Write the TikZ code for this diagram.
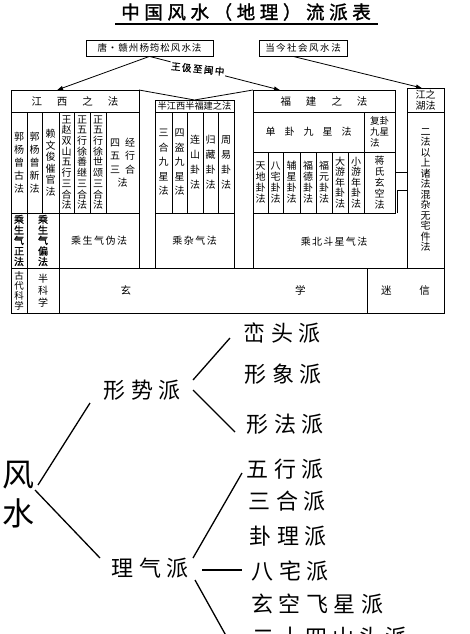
\documentclass[tikz,border=0pt]{standalone}
\usepackage{fontspec}
\setmainfont{Noto Sans CJK SC}
\newfontfamily\titlefont[FakeBold=1.5]{Noto Sans CJK SC}
\newfontfamily\cjkbold[FakeBold=1.2]{Noto Sans CJK SC}
\usetikzlibrary{arrows.meta,calc}
\makeatletter
\def\spc@end{SPCEND}
\newcommand\spc[2]{\def\spc@k{#1}\spc@a#2\spc@end}
\def\spc@a#1{\ifx#1\spc@end\else#1\expandafter\spc@b\fi}
\def\spc@b#1{\ifx#1\spc@end\else\kern\spc@k pt\relax#1\expandafter\spc@b\fi}
\makeatother
\newcommand\hsp[1]{\hspace{#1pt}}
\newcommand\tcell[7][]{\node[cellbox,#1,minimum width={(#5-#3)*1pt},minimum height={(#6-#4)*1pt}] (#2) at ({(#3+#5)/2},{(#4+#6)/2}) {#7};}
\tikzset{
  cellbox/.style={draw, line width=0.8pt, inner sep=0pt, outer sep=0pt, align=center},
  vt/.style={align=center, font=\fontsize{10}{#1}\selectfont},
  vtb/.style={align=center, font=\cjkbold\fontsize{10}{#1}\selectfont},
  htxt/.style={font=\fontsize{10}{12}\selectfont},
  topbox/.style={draw, line width=0.8pt, inner sep=0pt, minimum height=16pt, font=\fontsize{9.5}{11}\selectfont},
  arr/.style={-{Latex[length=6pt,width=4.5pt]}, line width=0.8pt},
  branch/.style={line width=1.3pt},
  leaf/.style={font=\fontsize{22}{22}\selectfont, inner sep=0pt},
}
\begin{document}
\begin{tikzpicture}[x=1pt,y=-1pt]
\useasboundingbox (0,0) rectangle (470,634);
\fill[white] (0,0) rectangle (470,634);
\clip (0,0) rectangle (470,634);

% title
\node[font=\titlefont\fontsize{18.5}{20}\selectfont, inner sep=0pt] (title) at (246,12) {\spc{4.6}{中国风水（地理）流派表}};
\draw[line width=1.2pt] (115,24) -- (378,24);

% top boxes
\node[topbox, minimum width=127pt] (tb1) at (149.5,48) {\spc{1}{唐・赣州杨筠松风水法}};
\node[topbox, minimum width=88pt] (tb2) at (303,48) {\spc{1.5}{当今社会风水法}};

% ---- table ----
% 江西之法
\tcell[htxt,font=\fontsize{10.5}{12}\selectfont]{jxh}{11}{90}{139}{112}{江\hsp{15}西\hsp{15}之\hsp{15}法}
\tcell[vt=13]{c1}{11}{112}{27}{213}{郭\\杨\\曾\\古\\法}
\tcell[vt=13]{c2}{27}{112}{42}{213}{郭\\杨\\曾\\新\\法}
\tcell[vt=11.5]{c3}{42}{112}{59}{213}{赖\\文\\俊\\催\\官\\法}
\tcell[vt=10.7]{c4}{59}{112}{74}{213}{王\\赵\\双\\山\\五\\行\\三\\合\\法}
\tcell[vt=10.7]{c5}{74}{112}{90}{213}{正\\五\\行\\徐\\善\\继\\三\\合\\法}
\tcell[vt=10.7]{c6}{90}{112}{106}{213}{正\\五\\行\\徐\\世\\颂\\三\\合\\法}
\tcell[vt=13.5]{c7}{106}{112}{139}{213}{四\hsp{5}经\\五\hsp{5}行\\三\hsp{5}合\\法}
\tcell[vtb=10.5]{r2a}{11}{213}{27}{268}{乘\\生\\气\\正\\法}
\tcell[vtb=10.5]{r2b}{27}{213}{59}{268}{乘\\生\\气\\偏\\法}
\tcell[htxt]{r2c}{59}{213}{139}{268}{\spc{1.5}{乘生气伪法}}

% 半江西半福建之法
\tcell[font=\fontsize{9.2}{11}\selectfont]{bh}{155}{100}{234}{112}{半江西半福建之法}
\tcell[vt=14.5]{b1}{155}{112}{172}{213}{三\\合\\九\\星\\法}
\tcell[vt=14.5]{b2}{172}{112}{187}{213}{四\\盗\\九\\星\\法}
\tcell[vt=15]{b3}{187}{112}{203}{213}{连\\山\\卦\\法}
\tcell[vt=15]{b4}{203}{112}{218}{213}{归\\藏\\卦\\法}
\tcell[vt=15]{b5}{218}{112}{234}{213}{周\\易\\卦\\法}
\tcell[htxt]{b6}{155}{213}{234}{268}{\spc{1.5}{乘杂气法}}

% 福建之法
\tcell[font=\fontsize{10.5}{12}\selectfont]{fh}{253}{90}{395}{112}{福\hsp{15}建\hsp{15}之\hsp{15}法}
\tcell[htxt]{f1}{253}{112}{364}{152}{单\hsp{9}卦\hsp{9}九\hsp{9}星\hsp{9}法}
\tcell[align=left,font=\fontsize{9.5}{11}\selectfont]{f2}{364}{112}{395}{152}{复卦\\九星\\法}
\tcell[vt=11]{f3}{253}{152}{268}{213}{天\\地\\卦\\法}
\tcell[vt=11]{f4}{268}{152}{283}{213}{八\\宅\\卦\\法}
\tcell[vt=11]{f5}{283}{152}{300}{213}{辅\\星\\卦\\法}
\tcell[vt=11]{f6}{300}{152}{316}{213}{福\\德\\卦\\法}
\tcell[vt=11]{f7}{316}{152}{332}{213}{福\\元\\卦\\法}
\tcell[vt=10.5]{f8}{332}{152}{348}{213}{大\\游\\年\\卦\\法}
\tcell[vt=10.5]{f9}{348}{152}{364}{213}{小\\游\\年\\卦\\法}
\tcell[vt=11]{f10}{364}{152}{395}{213}{蒋\\氏\\玄\\空\\法}
\draw[line width=0.8pt] (253,213) -- (253,268);
\draw[line width=0.8pt] (397,213) -- (397,190) -- (407,190) -- (407,268);
\draw[line width=0.8pt] (395,172) -- (407,172);
\node[htxt, inner sep=0pt] (bd) at (334,242) {\spc{1.3}{乘北斗星气法}};

% 江之湖法
\tcell[font=\fontsize{10}{10.5}\selectfont]{jh}{407}{88}{444}{112}{江之\\湖法}
\tcell[vt=10.5]{j1}{407}{112}{444}{268}{二\\法\\以\\上\\诸\\法\\混\\杂\\无\\宅\\件\\法}

% bottom row
\tcell[align=center,font=\fontsize{9.5}{10}\selectfont]{g1}{11}{268}{27}{313}{古\\代\\科\\学}
\tcell[vt=12]{g2}{27}{268}{59}{313}{半\\科\\学}
\tcell[font=\fontsize{10.5}{12}\selectfont]{g3}{59}{268}{367}{313}{玄\hsp{164}学}
\tcell[font=\fontsize{10.5}{12}\selectfont]{g4}{367}{268}{444}{313}{迷\hsp{28}信}

% connectors in the top part
\draw[arr] (tb1.south) -- ([xshift=46pt]jxh.north west);
\draw[arr] (tb1.south) -- node[pos=0.37, fill=white, inner sep=1pt, rotate=-6, font=\cjkbold\fontsize{9.5}{11}\selectfont] (lab) {\spc{1.5}{王伋至闽中}} ([xshift=27pt]fh.north west);
\draw[arr] ([xshift=-10pt]tb2.south) -- ([xshift=15pt]jh.north west);
\draw[line width=0.8pt] (jxh.north east) -- (bh.north) -- (fh.north west);

% ---- tree ----
\node[font=\fontsize{32}{32}\selectfont, inner sep=0pt] (feng) at (18,475) {风};
\node[font=\fontsize{32}{32}\selectfont, inner sep=0pt] (shui) at (18,513) {水};
\node[leaf] (xs) at (142,390) {\spc{5.5}{形势派}};
\node[leaf] (lq) at (150,568) {\spc{5.5}{理气派}};
\node[leaf] (lt) at (282,333) {\spc{5.5}{峦头派}};
\node[leaf] (xx) at (283,374) {\spc{5.5}{形象派}};
\node[leaf] (xf) at (285,424) {\spc{5.5}{形法派}};
\node[leaf] (wx) at (285,469) {\spc{5.5}{五行派}};
\node[leaf] (sh) at (287,501) {\spc{5.5}{三合派}};
\node[leaf] (gl) at (288,536) {\spc{5.5}{卦理派}};
\node[leaf] (bz) at (290,571) {\spc{5.5}{八宅派}};
\node[leaf] (xk) at (317,604) {\spc{5.5}{玄空飞星派}};
\node[leaf] (es) at (330,637) {\spc{4.5}{二十四山头派}};

\draw[branch] ([shift={(20,10)}]feng.center) -- ([shift={(-52,13)}]xs.center);
\draw[branch] ([shift={(17,15)}]feng.center) -- ([shift={(-50,-10)}]lq.center);
\draw[branch] ([shift={(51,-10)}]xs.center) -- ([shift={(-52,5)}]lt.center);
\draw[branch] ([shift={(51,0)}]xs.center) -- ([shift={(-50,8)}]xf.center);
\draw[branch] ([shift={(43,-10)}]lq.center) -- ([shift={(-43,4)}]wx.center);
\draw[branch] ([shift={(52,2)}]lq.center) -- ([shift={(-48,-1)}]bz.center);
\draw[branch] ([shift={(45,12)}]lq.center) -- ([shift={(-101,4)}]es.center);
\end{tikzpicture}
\end{document}
